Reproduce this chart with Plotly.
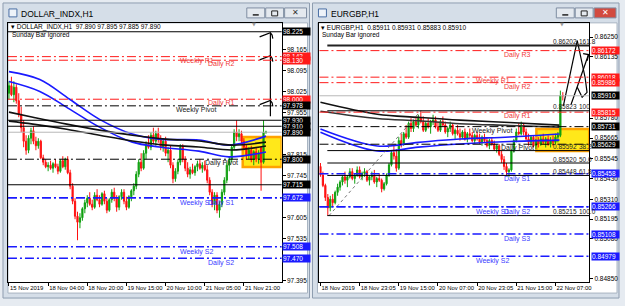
import plotly.graph_objects as go

W, H = 625, 306

# ---------------- LEFT CHART DATA (DOLLAR_INDX,H1) ----------------
L_open = [98.020, 98.045, 98.015, 98.040, 97.995, 97.950, 97.905, 97.860,
          97.830, 97.870, 97.895, 97.860, 97.845,
          97.860, 97.805, 97.790, 97.775, 97.780, 97.770, 97.785, 97.775, 97.760, 97.795, 97.775, 97.800, 97.755,
          97.710, 97.660, 97.610, 97.590,
          97.605, 97.635, 97.655, 97.670, 97.650,
          97.640, 97.680, 97.665, 97.650, 97.685, 97.660, 97.630,
          97.665, 97.690, 97.670, 97.640, 97.675, 97.690, 97.660, 97.640, 97.675, 97.695,
          97.710, 97.750, 97.790, 97.770, 97.820, 97.850, 97.840, 97.880, 97.860, 97.885,
          97.865, 97.840, 97.860, 97.820, 97.830, 97.780, 97.735,
          97.760, 97.790, 97.840, 97.800, 97.770, 97.750, 97.765, 97.755, 97.775, 97.785, 97.770, 97.780, 97.765, 97.730,
          97.690, 97.650, 97.680, 97.630, 97.650,
          97.690, 97.730, 97.780, 97.800, 97.840, 97.890, 97.875,
          97.885, 97.860, 97.840, 97.815, 97.830, 97.800, 97.825, 97.800, 97.840, 97.790, 97.890]
L_high = [98.060, 98.075, 98.060, 98.050, 98.020, 97.975, 97.930, 97.880,
          97.880, 97.905, 97.910, 97.875, 97.870,
          97.865, 97.815, 97.800, 97.790, 97.795, 97.790, 97.800, 97.785, 97.800, 97.810, 97.805, 97.810, 97.765,
          97.720, 97.670, 97.625, 97.620,
          97.640, 97.665, 97.680, 97.690, 97.665,
          97.690, 97.700, 97.680, 97.690, 97.695, 97.670, 97.670,
          97.700, 97.705, 97.680, 97.680, 97.700, 97.700, 97.675, 97.680, 97.700, 97.720,
          97.760, 97.800, 97.820, 97.830, 97.860, 97.880, 97.890, 97.905, 97.895, 97.905,
          97.880, 97.870, 97.875, 97.840, 97.845, 97.790, 97.770,
          97.800, 97.850, 97.850, 97.810, 97.790, 97.775, 97.785, 97.780, 97.795, 97.800, 97.790, 97.795, 97.780, 97.740,
          97.700, 97.690, 97.690, 97.660, 97.700,
          97.740, 97.790, 97.810, 97.850, 97.900, 97.930, 97.900,
          97.895, 97.870, 97.850, 97.840, 97.845, 97.830, 97.840, 97.830, 97.840, 97.930, 97.895]
L_low = [98.000, 98.010, 97.990, 97.985, 97.940, 97.890, 97.840, 97.815,
         97.820, 97.850, 97.850, 97.830, 97.835,
         97.800, 97.780, 97.770, 97.760, 97.765, 97.755, 97.770, 97.750, 97.755, 97.770, 97.765, 97.750, 97.700,
         97.650, 97.600, 97.530, 97.570,
         97.595, 97.620, 97.640, 97.645, 97.630,
         97.635, 97.660, 97.640, 97.645, 97.650, 97.620, 97.625,
         97.655, 97.660, 97.625, 97.630, 97.665, 97.650, 97.630, 97.635, 97.660, 97.680,
         97.700, 97.740, 97.760, 97.765, 97.800, 97.835, 97.830, 97.850, 97.845, 97.855,
         97.830, 97.825, 97.810, 97.790, 97.770, 97.720, 97.725,
         97.750, 97.780, 97.790, 97.760, 97.740, 97.735, 97.750, 97.745, 97.760, 97.765, 97.755, 97.760, 97.720, 97.680,
         97.640, 97.630, 97.620, 97.605, 97.640,
         97.680, 97.720, 97.760, 97.790, 97.830, 97.860, 97.860,
         97.850, 97.830, 97.800, 97.800, 97.790, 97.780, 97.790, 97.785, 97.695, 97.785, 97.885]
L_close = [98.045, 98.015, 98.040, 97.995, 97.950, 97.905, 97.860, 97.830,
           97.870, 97.895, 97.860, 97.845, 97.860,
           97.805, 97.790, 97.775, 97.780, 97.770, 97.785, 97.775, 97.760, 97.795, 97.775, 97.800, 97.755, 97.710,
           97.660, 97.610, 97.590, 97.605,
           97.635, 97.655, 97.670, 97.650, 97.640,
           97.680, 97.665, 97.650, 97.685, 97.660, 97.630, 97.665,
           97.690, 97.670, 97.640, 97.675, 97.690, 97.660, 97.640, 97.675, 97.695, 97.710,
           97.750, 97.790, 97.770, 97.820, 97.850, 97.840, 97.880, 97.860, 97.885, 97.865,
           97.840, 97.860, 97.820, 97.830, 97.780, 97.735, 97.760,
           97.790, 97.840, 97.800, 97.770, 97.750, 97.765, 97.755, 97.775, 97.785, 97.770, 97.780, 97.765, 97.730, 97.690,
           97.650, 97.680, 97.630, 97.650, 97.690,
           97.730, 97.780, 97.800, 97.840, 97.890, 97.875, 97.885,
           97.860, 97.840, 97.815, 97.830, 97.800, 97.825, 97.800, 97.820, 97.790, 97.890, 97.890]

L_xtick_idx = [0, 16, 32, 48, 64, 80, 96]
L_xtick_text = ["15 Nov 2019", "18 Nov 04:00", "18 Nov 20:00", "19 Nov 15:00",
                "20 Nov 10:00", "21 Nov 05:00", "21 Nov 21:00"]
L_ytick = [98.165, 98.095, 98.025, 97.955, 97.815, 97.745, 97.605, 97.535, 97.395]

L_res = [98.142, 98.130, 98.000]
L_res_names = ["Weekly R1", "Daily R2", "Daily R1"]
L_piv = [97.978, 97.800]
L_piv_names = ["Weekly Pivot", "Daily Pivot"]
L_sup = [97.672, 97.672, 97.508, 97.470]
L_sup_names = ["Weekly S1", "Daily S1", "Weekly S2", "Daily S2"]
L_solid = [98.225, 97.930, 97.910, 97.715]
L_bid = 97.890
L_zone = [97.774, 97.874]
L_zone_from = 95.5

L_ma_idx = [0, 12.6, 24.8, 37, 50.4, 61.4, 77.6, 89.8, 105]
L_blue1 = [98.092, 98.066, 98.000, 97.933, 97.884, 97.867, 97.864, 97.847, 97.877]
L_blue2 = [98.059, 98.026, 97.967, 97.907, 97.857, 97.841, 97.827, 97.808, 97.824]
L_ma_idx_b = [0, 9.8, 23.6, 37, 50.4, 64.2, 77.6, 91, 105]
L_black1 = [97.957, 97.940, 97.917, 97.897, 97.880, 97.867, 97.861, 97.847, 97.857]
L_black2 = [97.927, 97.917, 97.900, 97.880, 97.861, 97.847, 97.841, 97.831, 97.844]

# hand drawn marks (bar index, price)
L_draw_vert_x = [106.8, 106.8]
L_draw_vert_y = [98.222, 97.943]
L_hook_apex = [98.222, 98.145, 97.996]

# ---------------- RIGHT CHART DATA (EURGBP,H1) ----------------
R_open = [.85500, .85450, .85390, .85320, .85260, .85310, .85290, .85350,
          .85380, .85410, .85440, .85420, .85440, .85470, .85430, .85450, .85480, .85440, .85460, .85470,
          .85420, .85440, .85450, .85410, .85430, .85420, .85370, .85400,
          .85450, .85510, .85580, .85560, .85490, .85650,
          .85630, .85690, .85670, .85750, .85720, .85760, .85740, .85780,
          .85760, .85710, .85750, .85730, .85760, .85770, .85730, .85710, .85760, .85740, .85700, .85720,
          .85740, .85690, .85710, .85690, .85670, .85700, .85660,
          .85690, .85680, .85650, .85680, .85660, .85640, .85670, .85650, .85620, .85650, .85630, .85600,
          .85620, .85570, .85540, .85500, .85470, .85480,
          .85590, .85650, .85700, .85690, .85740, .85700,
          .85660, .85640, .85670, .85620, .85650, .85630,
          .85660, .85640, .85660, .85630, .85650, .85640, .85670, .85680, .85911]
R_high = [.85520, .85470, .85400, .85340, .85330, .85340, .85360, .85400,
          .85420, .85450, .85470, .85450, .85490, .85490, .85460, .85500, .85500, .85470, .85490, .85480,
          .85450, .85470, .85480, .85440, .85460, .85430, .85410, .85460,
          .85520, .85590, .85620, .85600, .85670, .85690,
          .85700, .85740, .85760, .85780, .85770, .85790, .85800, .85823,
          .85790, .85760, .85780, .85770, .85800, .85790, .85760, .85770, .85790, .85760, .85730, .85760,
          .85750, .85720, .85740, .85720, .85710, .85720, .85700,
          .85720, .85700, .85690, .85700, .85690, .85680, .85690, .85670, .85660, .85670, .85650, .85630,
          .85630, .85590, .85560, .85520, .85490, .85600,
          .85660, .85720, .85750, .85760, .85750, .85720,
          .85690, .85680, .85680, .85660, .85670, .85680,
          .85690, .85670, .85680, .85670, .85680, .85690, .85700, .85940, .85931]
R_low = [.85440, .85380, .85300, .85215, .85240, .85270, .85280, .85330,
         .85360, .85390, .85400, .85380, .85430, .85420, .85400, .85440, .85430, .85420, .85440, .85410,
         .85390, .85420, .85400, .85380, .85410, .85350, .85360, .85390,
         .85440, .85500, .85540, .85470, .85480, .85610,
         .85620, .85660, .85660, .85700, .85700, .85730, .85720, .85750,
         .85700, .85700, .85720, .85690, .85740, .85720, .85700, .85700, .85730, .85690, .85670, .85700,
         .85680, .85660, .85680, .85650, .85660, .85650, .85640,
         .85660, .85640, .85630, .85650, .85630, .85620, .85640, .85610, .85600, .85620, .85590, .85580,
         .85560, .85520, .85480, .85450, .85440, .85470,
         .85580, .85640, .85680, .85680, .85680, .85650,
         .85620, .85620, .85610, .85600, .85610, .85620,
         .85630, .85610, .85620, .85610, .85620, .85630, .85640, .85670, .85883]
R_close = [.85450, .85390, .85320, .85260, .85310, .85290, .85350, .85380,
           .85410, .85440, .85420, .85440, .85470, .85430, .85450, .85480, .85440, .85460, .85470, .85420,
           .85440, .85450, .85410, .85430, .85420, .85370, .85400, .85450,
           .85510, .85580, .85560, .85490, .85650, .85630,
           .85690, .85670, .85750, .85720, .85760, .85740, .85780, .85760,
           .85710, .85750, .85730, .85760, .85770, .85730, .85710, .85760, .85740, .85700, .85720, .85740,
           .85690, .85710, .85690, .85670, .85700, .85660, .85690,
           .85680, .85650, .85680, .85660, .85640, .85670, .85650, .85620, .85650, .85630, .85600, .85620,
           .85570, .85540, .85500, .85470, .85480, .85590,
           .85650, .85700, .85690, .85740, .85700, .85660,
           .85640, .85670, .85620, .85650, .85630, .85660,
           .85640, .85660, .85630, .85650, .85640, .85670, .85680, .85911, .85910]

R_xtick_idx = [0, 16, 32, 48, 64, 80, 96]
R_xtick_text = ["18 Nov 2019", "18 Nov 23:05", "19 Nov 15:00", "20 Nov 07:00",
                "20 Nov 23:05", "21 Nov 15:00", "22 Nov 07:00"]
R_ytick = [0.86250, 0.86135, 0.85780, 0.85665, 0.85545, 0.85430,
           0.85310, 0.85195, 0.85080, 0.84850]

R_res = [0.86172, 0.86018, 0.85986, 0.85815]
R_res_names = ["Daily R3", "Weekly R1", "Daily R2", "Daily R1"]
R_piv = [0.85731, 0.85629]
R_piv_names = ["Weekly Pivot", "Daily Pivot"]
R_sup = [0.85458, 0.85266, 0.85266, 0.85108, 0.84979]
R_sup_names = ["Daily S1", "Weekly S1", "Daily S2", "Daily S3", "Weekly S2"]
R_bid = 0.85910
R_zone = [0.85590, 0.85717]
R_zone_from = 88.2

R_fib_levels = [0.86202, 0.85823, 0.85592, 0.85520, 0.85448, 0.85215]
R_fib_names = ["161.8", "100", "38.2", "50.0", "61.8", "100.0"]
R_fib_from = 2.8
R_fib_anchor_idx = [3.5, 41]
R_fib_anchor_p = [0.85215, 0.85823]

R_ma_idx = [0, 23.2, 40, 56.9, 77.2, 97.6]
R_black1 = [0.85872, 0.85803, 0.85785, 0.85769, 0.85755, 0.85740]
R_black2 = [0.85820, 0.85778, 0.85765, 0.85748, 0.85738, 0.85728]
R_blue1 = [0.85717, 0.85619, 0.85640, 0.85659, 0.85671, 0.85688]
R_blue2 = [0.85699, 0.85590, 0.85612, 0.85630, 0.85645, 0.85653]

R_draw = [
    ([99.2, 101.6, 103.7, 104.9], [0.85850, 0.86011, 0.86155, 0.86230]),
    ([104.9, 106.5, 108.1, 108.9, 106.9, 104.9], [0.86230, 0.86120, 0.86016, 0.85930, 0.85901, 0.85959]),
    ([102.4, 104.9, 107.3, 109.5], [0.85861, 0.85965, 0.86068, 0.86149]),
    ([107.3, 109.5, 109.0], [0.86155, 0.86149, 0.86114]),
]

# ---------------- LAYOUT GEOMETRY (pixels) ----------------
def PX(x):
    return x / W

def PY(y):
    return 1 - y / H

FONT = "Liberation Sans"
RED = "#ff1a1a"
BLUE = "#1a1aff"
GREEN = "#10a010"
DASH = "9px,3px,2px,3px"

L_xrange = [-0.41, 111.4]
L_yrange = [97.3903, 98.2546]
R_xrange = [-0.41, 109.76]
R_yrange = [0.84829, 0.86333]

fig = go.Figure()

shapes = []
ann = []

# window chrome
for (x0, x1, cx0, cx1) in [(3, 311, 8, 309), (314, 622, 319, 620)]:
    shapes.append(dict(type="rect", xref="paper", yref="paper", x0=PX(x0), x1=PX(x1), y0=PY(300), y1=PY(3),
                       fillcolor="#d5dee8", line=dict(color="#8e9db0", width=1), layer="below"))
    shapes.append(dict(type="rect", xref="paper", yref="paper", x0=PX(cx0), x1=PX(cx1), y0=PY(295), y1=PY(23),
                       fillcolor="white", line=dict(color="#a8b4c2", width=1), layer="below"))
    shapes.append(dict(type="rect", xref="paper", yref="paper", x0=PX(x0 + 6), x1=PX(x0 + 14), y0=PY(17), y1=PY(9),
                       fillcolor="#eef3f9", line=dict(color="#4a6fa5", width=1), layer="below"))

for (bx, close_col) in [(248, "#e4e9ef"), (559, "#d24a3f")]:
    shapes.append(dict(type="rect", xref="paper", yref="paper", x0=PX(bx), x1=PX(bx + 18), y0=PY(18), y1=PY(8),
                       fillcolor="#e4e9ef", line=dict(color="#7f8ea2", width=1), layer="below"))
    shapes.append(dict(type="line", xref="paper", yref="paper", x0=PX(bx + 6), x1=PX(bx + 12), y0=PY(15), y1=PY(15),
                       line=dict(color="#222", width=1.5), layer="below"))
    shapes.append(dict(type="rect", xref="paper", yref="paper", x0=PX(bx + 19), x1=PX(bx + 37), y0=PY(18), y1=PY(8),
                       fillcolor="#e4e9ef", line=dict(color="#7f8ea2", width=1), layer="below"))
    shapes.append(dict(type="rect", xref="paper", yref="paper", x0=PX(bx + 25), x1=PX(bx + 31), y0=PY(16), y1=PY(11),
                       fillcolor="rgba(0,0,0,0)", line=dict(color="#222", width=1), layer="below"))
    shapes.append(dict(type="rect", xref="paper", yref="paper", x0=PX(bx + 38), x1=PX(bx + 60), y0=PY(18), y1=PY(8),
                       fillcolor=close_col, line=dict(color="#7f8ea2", width=1), layer="below"))
    ann.append(dict(xref="paper", yref="paper", x=PX(bx + 49), y=PY(13), text="✕", showarrow=False,
                    font=dict(size=8, color="white" if close_col != "#e4e9ef" else "#333", family="DejaVu Sans"),
                    xanchor="center", yanchor="middle"))

ann.append(dict(xref="paper", yref="paper", x=PX(19), y=PY(14), text="DOLLAR_INDX,H1", showarrow=False,
                font=dict(size=8.5, color="black", family=FONT), xanchor="left", yanchor="middle"))
ann.append(dict(xref="paper", yref="paper", x=PX(331), y=PY(14), text="EURGBP,H1", showarrow=False,
                font=dict(size=8.5, color="black", family=FONT), xanchor="left", yanchor="middle"))


def add_chart(xa, ya, op, hi, lo, cl, res, resn, piv, pivn, sup, supn, bid, zone, zone_from, xrange,
              weekly_x, daily_x, fmt, box_x, extra_solid):
    xref, yref = xa, ya
    xd = xa + " domain"
    shapes.append(dict(type="rect", xref=xref, yref=yref, x0=zone_from, x1=xrange[1], y0=zone[0], y1=zone[1],
                       fillcolor="#ffe81a", line=dict(color="#ffa200", width=2.5), layer="below"))
    boxes = []
    for p, n in zip(res, resn):
        shapes.append(dict(type="line", xref=xd, yref=yref, x0=0, x1=1, y0=p, y1=p,
                           line=dict(color=RED, width=1, dash=DASH)))
        ann.append(dict(xref=xref, yref=yref, x=weekly_x if n.startswith("Weekly") else daily_x, y=p, yshift=-4,
                        text=n, showarrow=False, xanchor="left", yanchor="middle",
                        font=dict(size=7, color="#f03a3a", family=FONT)))
        boxes.append((p, RED))
    for p, n in zip(piv, pivn):
        shapes.append(dict(type="line", xref=xd, yref=yref, x0=0, x1=1, y0=p, y1=p,
                           line=dict(color="black", width=1, dash=DASH)))
        ann.append(dict(xref=xref, yref=yref, x=(weekly_x - 1.5) if n.startswith("Weekly") else (daily_x - 1.2),
                        y=p, yshift=-4, text=n, showarrow=False, xanchor="left", yanchor="middle",
                        font=dict(size=7, color="#222", family=FONT)))
        boxes.append((p, "black"))
    for p, n in zip(sup, supn):
        shapes.append(dict(type="line", xref=xd, yref=yref, x0=0, x1=1, y0=p, y1=p,
                           line=dict(color=BLUE, width=1.5, dash=DASH)))
        ann.append(dict(xref=xref, yref=yref, x=weekly_x if n.startswith("Weekly") else daily_x, y=p, yshift=-5,
                        text=n, showarrow=False, xanchor="left", yanchor="middle",
                        font=dict(size=7, color="#3a3aff", family=FONT)))
        boxes.append((p, BLUE))
    for p in extra_solid:
        shapes.append(dict(type="line", xref=xd, yref=yref, x0=0, x1=1, y0=p, y1=p,
                           line=dict(color="black", width=1.2)))
        boxes.append((p, "black"))
    shapes.append(dict(type="line", xref=xd, yref=yref, x0=0, x1=1, y0=bid, y1=bid,
                       line=dict(color="#b8b8b8", width=1)))
    boxes.append((bid, "black"))
    seen = set()
    for p, c in boxes:
        if p in seen:
            continue
        seen.add(p)
        ann.append(dict(xref="paper", yref=yref, x=PX(box_x), y=p, text=fmt.format(p), showarrow=False,
                        xanchor="left", yanchor="middle", bgcolor=c, borderpad=0, width=27, height=7,
                        align="left", valign="middle",
                        font=dict(size=6.5, color="white", family=FONT)))
    fig.add_trace(go.Candlestick(x=list(range(len(op))), open=op, high=hi, low=lo, close=cl,
                                 xaxis=xa, yaxis=ya, showlegend=False, hoverinfo="skip",
                                 whiskerwidth=0,
                                 increasing=dict(line=dict(color=GREEN, width=1), fillcolor=GREEN),
                                 decreasing=dict(line=dict(color="#ff1010", width=1), fillcolor="#ff1010")))


add_chart("x", "y", L_open, L_high, L_low, L_close, L_res, L_res_names, L_piv, L_piv_names,
          L_sup, L_sup_names, L_bid, L_zone, L_zone_from, L_xrange, 69.1, 80.5, "{:.3f}", 283.5, L_solid)
add_chart("x2", "y2", R_open, R_high, R_low, R_close, R_res, R_res_names, R_piv, R_piv_names,
          R_sup, R_sup_names, R_bid, R_zone, R_zone_from, R_xrange, 62.6, 74.0, "{:.5f}", 593.5, [])

# moving averages
for xs, ys, col in [(L_ma_idx, L_blue1, BLUE), (L_ma_idx, L_blue2, BLUE),
                    (L_ma_idx_b, L_black1, "#111"), (L_ma_idx_b, L_black2, "#111")]:
    fig.add_trace(go.Scatter(x=xs, y=ys, mode="lines", line=dict(color=col, width=1.6, shape="spline"),
                             xaxis="x", yaxis="y", showlegend=False, hoverinfo="skip"))
for ys, col in [(R_black1, "#111"), (R_black2, "#333"), (R_blue1, BLUE), (R_blue2, BLUE)]:
    fig.add_trace(go.Scatter(x=R_ma_idx, y=ys, mode="lines", line=dict(color=col, width=1.6, shape="spline"),
                             xaxis="x2", yaxis="y2", showlegend=False, hoverinfo="skip"))

# fibonacci (right)
for p, n in zip(R_fib_levels, R_fib_names):
    shapes.append(dict(type="line", xref="x2", yref="y2", x0=R_fib_from, x1=R_xrange[1], y0=p, y1=p,
                       line=dict(color="#222" if n == "161.8" else "black", width=2 if n == "161.8" else 1)))
    ann.append(dict(xref="x2", yref="y2", x=94.0, y=p, yshift=4, text="{:.5f}".format(p), showarrow=False,
                    xanchor="left", yanchor="middle", font=dict(size=6.5, color="#222", family=FONT)))
    ann.append(dict(xref="x2", yref="y2", x=104.6, y=p, yshift=4, text=n, showarrow=False,
                    xanchor="left", yanchor="middle", font=dict(size=6.5, color="#222", family=FONT)))
fig.add_trace(go.Scatter(x=R_fib_anchor_idx, y=R_fib_anchor_p, mode="lines",
                         line=dict(color="#777", width=1, dash="dot"),
                         xaxis="x2", yaxis="y2", showlegend=False, hoverinfo="skip"))

# hand-drawn marks
fig.add_trace(go.Scatter(x=L_draw_vert_x, y=L_draw_vert_y, mode="lines", line=dict(color="black", width=1.2),
                         xaxis="x", yaxis="y", showlegend=False, hoverinfo="skip"))
for a in L_hook_apex:
    fig.add_trace(go.Scatter(x=[102.4, 104.6, 106.8, 107.5, 107.8], y=[a - 0.014, a - 0.007, a, a - 0.008, a - 0.02],
                             mode="lines", line=dict(color="black", width=1.2),
                             xaxis="x", yaxis="y", showlegend=False, hoverinfo="skip"))
for xs, ys in R_draw:
    fig.add_trace(go.Scatter(x=xs, y=ys, mode="lines", line=dict(color="black", width=1.2),
                             xaxis="x2", yaxis="y2", showlegend=False, hoverinfo="skip"))

# headers
for x0, t in [(9, "▾ DOLLAR_INDX,H1  97.890 97.895 97.885 97.890"), (321, "▾ EURGBP,H1  0.85911 0.85931 0.85883 0.85910")]:
    ann.append(dict(xref="paper", yref="paper", x=PX(x0), y=PY(27.5), text=t, showarrow=False,
                    xanchor="left", yanchor="middle", font=dict(size=6.5, color="black", family=FONT)))
    ann.append(dict(xref="paper", yref="paper", x=PX(x0 + 1), y=PY(35.5), text="Sunday Bar ignored", showarrow=False,
                    xanchor="left", yanchor="middle", font=dict(size=6.5, color="black", family=FONT)))
for x0 in [255, 565]:
    ann.append(dict(xref="paper", yref="paper", x=PX(x0), y=PY(24.5), text="▼", showarrow=False,
                    xanchor="center", yanchor="middle", font=dict(size=5, color="#999", family="DejaVu Sans")))

axis_common = dict(showgrid=False, zeroline=False, showline=True, linecolor="black", linewidth=1, mirror=True,
                   ticks="outside", ticklen=3, tickcolor="black", fixedrange=True)
yfont = dict(size=6.5, color="black", family=FONT)
xfont = dict(size=5.9, color="black", family=FONT)

fig.update_layout(
    width=W, height=H, margin=dict(l=0, r=0, t=0, b=0),
    paper_bgcolor="#e6ebf1", plot_bgcolor="white",
    showlegend=False,
    xaxis=dict(domain=[PX(8), PX(283)], range=L_xrange, anchor="y", tickvals=L_xtick_idx, ticktext=L_xtick_text,
               tickangle=0, ticklabelposition="outside right", rangeslider=dict(visible=False),
               tickfont=xfont, **axis_common),
    yaxis=dict(domain=[PY(284), PY(23)], range=L_yrange, anchor="x", side="right", tickvals=L_ytick,
               tickformat=".3f", tickfont=yfont, **axis_common),
    xaxis2=dict(domain=[PX(321), PX(592)], range=R_xrange, anchor="y2", tickvals=R_xtick_idx, ticktext=R_xtick_text,
                tickangle=0, ticklabelposition="outside right", rangeslider=dict(visible=False),
                tickfont=xfont, **axis_common),
    yaxis2=dict(domain=[PY(284), PY(23)], range=R_yrange, anchor="x2", side="right", tickvals=R_ytick,
                tickformat=".5f", tickfont=yfont, **axis_common),
    shapes=shapes, annotations=ann,
)

fig.write_html("out.html")
